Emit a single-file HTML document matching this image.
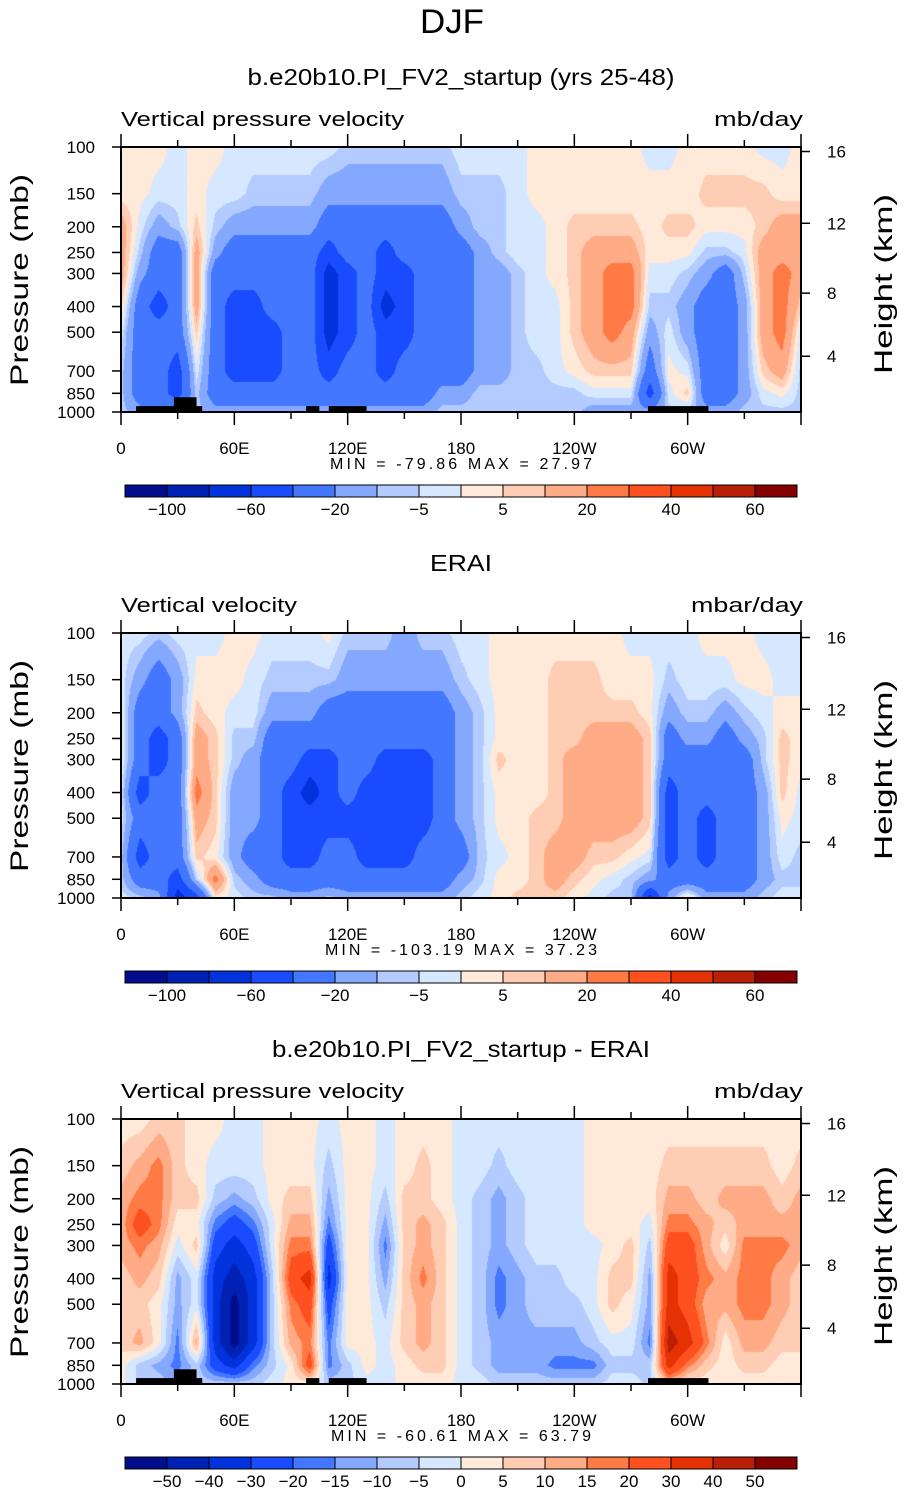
<!DOCTYPE html>
<html><head><meta charset="utf-8">
<style>
html,body{margin:0;padding:0;background:#fff;}
#root{position:relative;width:905px;height:1493px;overflow:hidden;background:#fff;}
canvas{position:absolute;left:121px;}
svg{position:absolute;left:0;top:0;}
text{font-family:"Liberation Sans",sans-serif;fill:#000;}
</style></head>
<body>
<div id="root">
<canvas id="c0" width="680" height="265" style="top:147px"></canvas>
<canvas id="c1" width="680" height="265" style="top:633px"></canvas>
<canvas id="c2" width="680" height="265" style="top:1119px"></canvas>
<svg id="svg" width="905" height="1493"></svg>
</div>
<script>
// ---------- data ----------
const pressures = [100,150,200,250,300,400,500,700,850,1000];
const lonStep = 10; // columns at 0,10,...,350 E
const colors = ["#000e8c","#0022b4","#0033dc","#1a4cff","#4477ff","#85a8ff","#b3cbff","#d5e8ff","#ffe9d8","#ffcdb4","#ffab86","#ff7a45","#ff5020","#e53205","#b81f06","#850000"];
const levelsAbs = [-100,-80,-60,-40,-20,-10,-5,0,5,10,20,30,40,50,60];
const levelsDiff = [-50,-40,-30,-20,-15,-10,-5,0,5,10,15,20,30,40,50];
const cbLabelsAbs = ["-100","","-60","","-20","","-5","","5","","20","","40","","60"];
const cbLabelsDiff = ["-50","-40","-30","-20","-15","-10","-5","0","5","10","15","20","30","40","50"];
const xTickLabels = ["0","60E","120E","180","120W","60W"];
const yTickLabels = ["100","150","200","250","300","400","500","700","850","1000"];
const heightLabels = ["16","12","8","4"];
const heightPressures = [104,194,356,616];

const model = [
[2,2,2,-2,2,2,-2,-2,-2,-2,-2,-2,-7,-7,-7,-7,-7,-7,-2,-2,-2,-2,2,2,2,2,2,2,-2,-2,2,2,2,2,-2,-2],
[2,2,-2,-2,2,-2,-2,-7,-7,-7,-7,-15,-15,-15,-15,-15,-15,-15,-7,-7,-7,-2,2,2,2,2,2,2,2,2,2,7,7,7,7,2],
[15,-2,-15,-7,7,-7,-15,-15,-15,-15,-15,-30,-30,-30,-30,-30,-30,-30,-15,-7,-7,-2,-2,2,7,7,7,7,2,7,7,2,2,2,7,15],
[15,-7,-30,-30,15,-15,-30,-30,-30,-30,-30,-50,-30,-30,-50,-30,-30,-30,-30,-15,-7,-2,-2,2,7,15,15,15,2,2,2,-7,-7,-2,15,15],
[15,-15,-30,-30,15,-30,-30,-30,-30,-30,-30,-70,-50,-30,-50,-50,-30,-30,-30,-15,-15,-7,-2,2,7,15,25,25,-2,-2,-7,-15,-30,-7,15,25],
[7,-30,-50,-30,15,-30,-50,-50,-30,-30,-30,-70,-50,-30,-70,-50,-30,-30,-30,-15,-15,-7,-2,-2,7,15,25,25,-7,-7,-15,-30,-30,-15,15,25],
[-2,-30,-30,-30,7,-30,-50,-50,-50,-30,-30,-70,-50,-30,-50,-50,-30,-30,-30,-15,-15,-7,-2,-2,7,15,25,15,-15,-2,-15,-30,-30,-15,15,25],
[-7,-30,-30,-50,-2,-30,-50,-50,-50,-30,-30,-50,-30,-30,-50,-30,-30,-30,-30,-15,-15,-7,-7,-2,2,7,7,7,-30,2,-2,-30,-30,-15,7,15],
[-7,-30,-30,-50,-7,-30,-30,-30,-30,-30,-30,-30,-30,-30,-30,-30,-30,-15,-15,-7,-7,-7,-7,-7,-7,-2,-2,-2,-50,-2,7,-30,-30,-15,-2,2],
[-7,-15,-30,-15,-7,-15,-15,-15,-15,-15,-15,-15,-15,-15,-15,-15,-15,-7,-7,-7,-7,-7,-7,-7,-7,-15,-15,-15,-15,-7,-7,-15,-15,-7,-7,-7]
];
const erai = [
[-2,-2,-7,-2,-2,-2,2,2,-2,-2,-2,2,-7,-7,-7,-15,-7,-7,-2,-2,2,2,2,2,2,2,2,-2,-2,-2,-2,2,2,2,-2,-2],
[-2,-15,-30,-15,2,2,2,-2,-7,-7,-7,-7,-15,-15,-15,-15,-15,-15,-7,-2,2,2,2,7,7,7,2,2,2,-7,-2,-2,-2,2,2,-2],
[2,-30,-30,-15,7,2,-2,-2,-15,-15,-15,-30,-30,-30,-30,-30,-30,-30,-15,-7,2,2,2,7,7,7,7,7,2,-15,-7,-7,-15,-7,-2,2],
[2,-30,-50,-30,15,7,-7,-7,-30,-30,-30,-30,-30,-30,-30,-30,-30,-30,-15,-7,2,2,2,7,7,15,15,15,7,-30,-15,-15,-30,-15,-7,7],
[2,-30,-50,-30,15,7,-7,-15,-30,-30,-50,-50,-30,-30,-50,-50,-50,-30,-15,-7,7,2,2,7,15,15,15,15,7,-30,-30,-30,-30,-30,-7,7],
[-2,-50,-30,-30,25,7,-15,-15,-30,-50,-70,-50,-30,-50,-50,-50,-50,-30,-15,-7,2,2,2,7,15,15,15,15,7,-50,-30,-30,-30,-30,-15,7],
[-2,-30,-30,-30,15,7,-15,-15,-30,-50,-50,-50,-50,-50,-50,-50,-50,-30,-15,-7,2,2,7,7,15,15,15,15,7,-50,-30,-50,-30,-30,-15,2],
[-7,-50,-30,-30,7,2,-15,-30,-30,-50,-50,-30,-30,-50,-50,-50,-30,-30,-30,-7,-2,2,7,15,15,7,7,2,-2,-50,-30,-50,-30,-30,-15,-2],
[-7,-30,-30,-50,-7,25,-7,-15,-30,-30,-30,-30,-30,-30,-30,-30,-30,-30,-15,-7,2,2,7,15,7,2,-2,-7,-15,-30,-30,-30,-30,-30,-15,-7],
[-2,-7,-15,-70,-50,2,-2,-7,-7,-15,-15,-7,-15,-15,-15,-15,-15,-15,-7,-2,2,7,7,7,2,-2,-7,-7,-70,-15,7,-15,-15,-15,-7,-2]
];
const diff = [
[2,2,7,7,2,2,-2,-2,2,2,2,-2,2,2,-2,2,2,2,-2,-2,-2,-2,-2,-2,-2,2,2,2,2,2,2,2,2,2,2,2],
[7,12,17,7,2,-2,-2,-2,2,2,2,-7,2,2,-2,2,7,2,-2,-2,-7,-2,-2,-2,-2,2,2,2,2,7,7,7,7,7,7,2],
[12,17,17,7,7,-7,-12,-7,2,7,7,-12,2,2,-7,7,7,2,-2,-7,-12,-7,-2,-2,-2,2,2,2,2,12,12,7,12,12,12,7],
[12,25,17,2,2,-17,-25,-17,-2,12,12,-17,2,2,-12,7,12,7,-2,-7,-12,-7,-2,-2,-2,2,2,2,-2,17,17,12,7,12,12,12],
[12,17,12,-2,7,-25,-35,-25,-2,17,17,-25,2,2,-17,7,12,7,-2,-7,-12,-7,-2,-2,-2,-2,2,7,-7,25,25,12,2,17,17,17],
[7,12,7,-12,-2,-35,-45,-35,-7,25,35,-35,2,2,-12,7,17,7,-2,-7,-17,-12,-7,-7,-2,-2,7,7,-12,35,25,17,12,17,17,12],
[7,7,2,-12,-2,-35,-55,-35,-7,17,25,-25,2,2,-7,7,12,7,-2,-7,-17,-12,-7,-7,-7,-2,7,2,-12,35,25,12,12,17,17,12],
[7,12,2,-17,12,-35,-55,-35,-7,12,17,-17,2,2,-2,7,12,7,-2,-7,-12,-12,-12,-12,-12,-7,-2,-2,-17,45,35,17,2,12,12,7],
[2,-7,-12,-17,-7,-25,-35,-17,-7,2,25,-17,-7,2,-2,2,7,7,-2,-7,-12,-12,-12,-17,-17,-17,-7,-7,-7,35,17,7,2,7,7,2],
[2,-7,-7,-12,-7,-7,-7,-7,-2,2,2,-7,-7,-2,-2,2,2,2,-2,-2,-7,-7,-7,-7,-7,-7,-2,-2,-7,7,2,2,2,2,2,2]
];
const stats = [["-79.86","27.97"],["-103.19","37.23"],["-60.61","63.79"]];
// land mask blocks [lonStart, lonEnd, topPressure]
const land = [[8,43,950],[28,40,880],[98,105,950],[110,130,950],[279,311,950]];

// ---------- geometry ----------
const PX=121, PW=680, PH=265;
const panelTops=[147,633,1119];
const lnTop=Math.log(100), lnBot=Math.log(1000);
function yOfP(p){return (Math.log(p)-lnTop)/(lnBot-lnTop)*PH;}
function xOfLon(l){return l/360*PW;}
const rowY = pressures.map(yOfP);

function classify(v,lev){let k=0;while(k<lev.length&&v>=lev[k])k++;return k;}
function hex(c){return [parseInt(c.slice(1,3),16),parseInt(c.slice(3,5),16),parseInt(c.slice(5,7),16)];}
const rgb=colors.map(hex);

function drawField(id,data,lev){
  const cv=document.getElementById(id),ctx=cv.getContext('2d');
  const img=ctx.createImageData(PW,PH),d=img.data;
  const nc=data[0].length;
  for(let y=0;y<PH;y++){
    let r=0;while(r<rowY.length-2&&y+0.5>rowY[r+1])r++;
    let fy=(y+0.5-rowY[r])/(rowY[r+1]-rowY[r]);fy=Math.max(0,Math.min(1,fy));
    for(let x=0;x<PW;x++){
      const lon=(x+0.5)/PW*360, cf=lon/lonStep;
      const c0=Math.floor(cf)%nc, c1=(c0+1)%nc, fx=cf-Math.floor(cf);
      const a=data[r][c0]*(1-fx)+data[r][c1]*fx;
      const b=data[r+1][c0]*(1-fx)+data[r+1][c1]*fx;
      const v=a*(1-fy)+b*fy;
      const col=rgb[classify(v,lev)];
      const i=(y*PW+x)*4;d[i]=col[0];d[i+1]=col[1];d[i+2]=col[2];d[i+3]=255;
    }
  }
  ctx.putImageData(img,0,0);
}
drawField('c0',model,levelsAbs);
drawField('c1',erai,levelsAbs);
drawField('c2',diff,levelsDiff);

// ---------- svg ----------
const NS="http://www.w3.org/2000/svg", svg=document.getElementById('svg');
function el(tag,attrs,parent){const e=document.createElementNS(NS,tag);for(const k in attrs)e.setAttribute(k,attrs[k]);(parent||svg).appendChild(e);return e;}
function txt(s,x,y,size,anchor,parent,extra){const t=el('text',Object.assign({x:x,y:y,'font-size':size,'text-anchor':anchor||'start'},extra||{}),parent);t.textContent=s;return t;}

const sup=txt("DJF",452,33,34,"middle");


sup.setAttribute('textLength','64');sup.setAttribute('lengthAdjust','spacingAndGlyphs');sup.setAttribute('fill','#333');

const titles=["b.e20b10.PI_FV2_startup (yrs 25-48)","ERAI","b.e20b10.PI_FV2_startup - ERAI"];
const titleW=[427,62,378];
const leftStr=["Vertical pressure velocity","Vertical velocity","Vertical pressure velocity"];
const leftW=[283,176,283];
const unitStr=["mb/day","mbar/day","mb/day"];
const unitW=[89,112,89];
const mmW=[262,272,260];
const panelNames=["model","erai","difference"];

for(let p=0;p<3;p++){
  const T=panelTops[p];
  const g=el('g',{});
  
  
  const tt=txt(titles[p],461,T-62,23,"middle",g,{textLength:titleW[p],lengthAdjust:'spacingAndGlyphs'});
  
  
  const lt=txt(leftStr[p],121,T-21,20,"start",g,{textLength:leftW[p],lengthAdjust:'spacingAndGlyphs'});
  
  
  const ut=txt(unitStr[p],803,T-21,20,"end",g,{textLength:unitW[p],lengthAdjust:'spacingAndGlyphs'});
  
  
  if(p!==1){
    for(const L of land){
      const r=el('rect',{x:PX+xOfLon(L[0]),y:T+yOfP(L[2]),width:xOfLon(L[1]-L[0]),height:PH-yOfP(L[2]),fill:'#000'},g);
      
      
    }
  }
  const fr=el('rect',{x:PX,y:T,width:PW,height:PH,fill:'none',stroke:'#000','stroke-width':2},g);
  
  
  for(let k=0;k<=12;k++){
    const x=PX+xOfLon(k*30),len=(k%2===0)?13:7;
    el('line',{x1:x,x2:x,y1:T,y2:T-len,stroke:'#000','stroke-width':1.5},g);
    el('line',{x1:x,x2:x,y1:T+PH,y2:T+PH+len,stroke:'#000','stroke-width':1.5},g);
  }
  xTickLabels.forEach((s,k)=>{
    const t=txt(s,PX+xOfLon(k*60),T+PH+42,17,"middle",g);
    
    
  });
  pressures.forEach((pr,k)=>{
    const y=T+yOfP(pr);
    el('line',{x1:PX-9,x2:PX,y1:y,y2:y,stroke:'#000','stroke-width':1.5},g);
    const t=txt(yTickLabels[k],95,y+6,17,"end",g);
    
    
  });
  heightPressures.forEach((pr,k)=>{
    const y=T+yOfP(pr);
    el('line',{x1:PX+PW,x2:PX+PW+9,y1:y,y2:y,stroke:'#000','stroke-width':1.5},g);
    const t=txt(heightLabels[k],827,y+6,17,"start",g);
    
    
  });
  const yt=txt("Pressure (mb)",0,0,25,"middle",g,{transform:`translate(28,${T+133}) rotate(-90)`,textLength:212,lengthAdjust:'spacingAndGlyphs'});
  
  
  const ht=txt("Height (km)",0,0,25,"middle",g,{transform:`translate(892,${T+137}) rotate(-90)`,textLength:180,lengthAdjust:'spacingAndGlyphs'});
  
  
  const mm=txt("MIN = "+stats[p][0]+"   MAX =  "+stats[p][1],461,T+PH+57,16,"middle",g,{textLength:mmW[p],lengthAdjust:'spacing'});
  
  
  const cbY=T+338, cbX=125, bw=42;
  const cb=el('g',{},g);
  
  
  colors.forEach((c,k)=>{
    const r=el('rect',{x:cbX+k*bw,y:cbY,width:bw,height:12,fill:c,stroke:'#000','stroke-width':1},cb);
    
    
  });
  const labs=p===2?cbLabelsDiff:cbLabelsAbs;
  labs.forEach((s,k)=>{
    if(!s)return;
    const t=txt(s.replace('-','\u2212'),cbX+(k+1)*bw,cbY+30,17,"middle",cb);
    
    
  });
}
</script>
</body></html>
